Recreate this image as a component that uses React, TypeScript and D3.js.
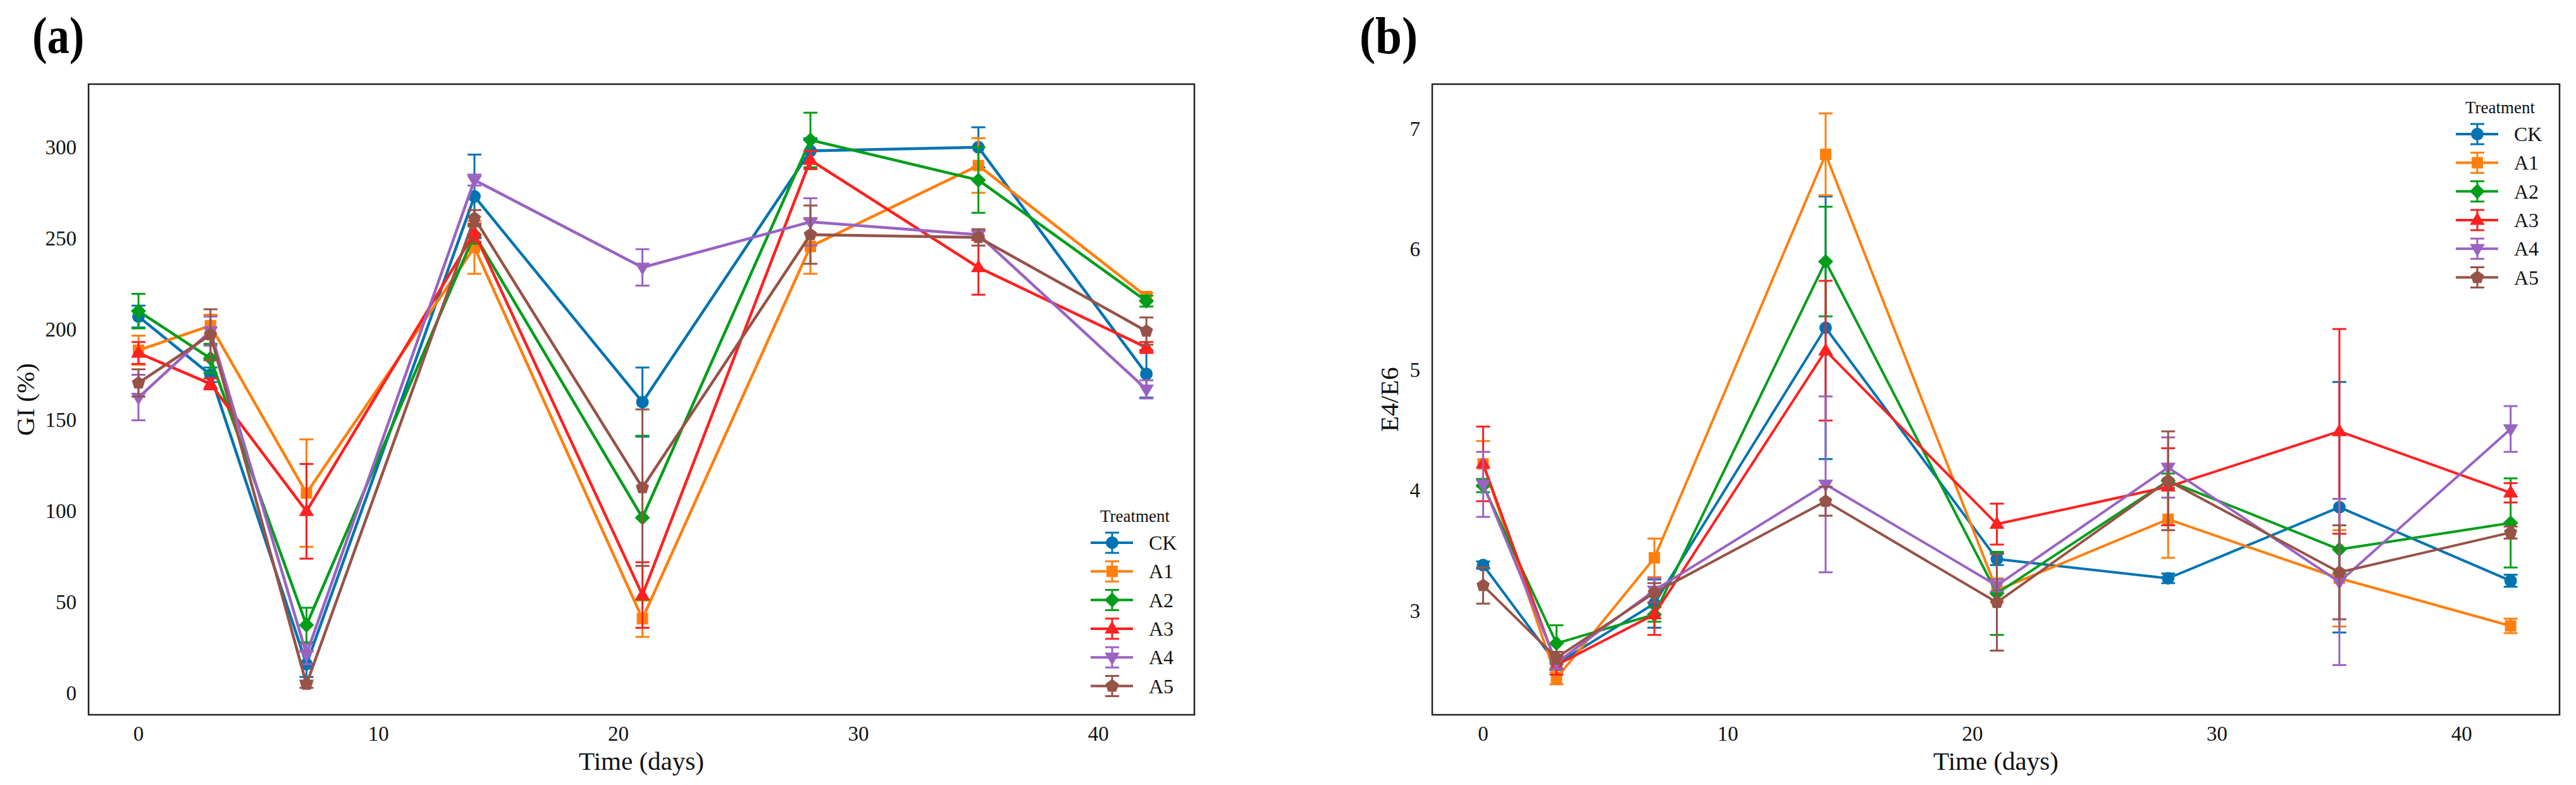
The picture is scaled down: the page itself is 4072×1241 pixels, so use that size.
import React from "react";
import * as d3 from "d3";

const days = [0, 3, 7, 14, 21, 28, 35, 42];
const treatments = ["CK", "A1", "A2", "A3", "A4", "A5"];
const colors = ["#0173B2", "#FF7F0E", "#029E1A", "#FF2020", "#9A63C2", "#975347"];
const shapes = ["circle", "square", "diamond", "triUp", "triDown", "pentagon"];

// Panel (a): GI (%)
const giMean = [
  [207, 175, 16, 273, 160, 298, 300, 175.5],
  [188.5, 202, 110, 245, 41, 245.5, 290, 218],
  [210, 184, 37.5, 252, 96.5, 304, 282, 215.5],
  [187, 170, 100, 253, 54, 293, 234, 190],
  [162.5, 199, 21.5, 282, 234, 259, 252, 167],
  [170.5, 197, 5, 261, 113, 252, 250.5, 199],
];
const giErr = [
  [6, 4, 7, 23, 19, 7, 11, 13],
  [8, 6, 29.5, 14.5, 10, 15, 15, 2],
  [9.5, 8, 9.5, 5, 45, 15, 18, 3],
  [6, 3, 26, 5, 18, 5, 15, 3],
  [12.5, 8, 5.5, 3, 10, 13, 2, 5],
  [7.5, 14, 2, 4.5, 43, 16, 4.5, 7.5],
];
const giTicks = [0, 50, 100, 150, 200, 250, 300];

// Panel (b): E4/E6
const eMean = [
  [3.38, 2.56, 3.06, 5.35, 3.43, 3.27, 3.86, 3.25],
  [4.22, 2.44, 3.44, 6.79, 3.17, 3.76, 3.27, 2.875],
  [4.04, 2.73, 2.97, 5.9, 3.145, 4.08, 3.51, 3.73],
  [4.22, 2.55, 2.97, 5.16, 3.72, 4.03, 4.49, 3.98],
  [4.05, 2.57, 3.17, 4.05, 3.21, 4.19, 3.24, 4.51],
  [3.21, 2.61, 3.15, 3.91, 3.07, 4.08, 3.32, 3.65],
];
const eErr = [
  [0.03, 0.05, 0.2, 1.09, 0.05, 0.04, 1.04, 0.05],
  [0.19, 0.05, 0.16, 0.34, 0.1, 0.32, 0.4, 0.06],
  [0.055, 0.15, 0.06, 0.455, 0.345, 0.06, 0.2, 0.37],
  [0.31, 0.08, 0.17, 0.58, 0.17, 0.32, 0.85, 0.08],
  [0.27, 0.05, 0.1, 0.73, 0.05, 0.25, 0.69, 0.19],
  [0.15, 0.05, 0.08, 0.12, 0.4, 0.41, 0.39, 0.05],
];
const eTicks = [3, 4, 5, 6, 7];
const xTicks = [0, 10, 20, 30, 40];

const FONT = "'Liberation Serif', 'Times New Roman', serif";

function makeSymbol(kind: string) {
  return {
    draw(ctx: any, r: number) {
      if (kind === "circle") {
        ctx.moveTo(r, 0);
        ctx.arc(0, 0, r, 0, 2 * Math.PI);
      } else if (kind === "square") {
        const s = r * 0.9;
        ctx.moveTo(-s, -s);
        ctx.lineTo(s, -s);
        ctx.lineTo(s, s);
        ctx.lineTo(-s, s);
        ctx.closePath();
      } else if (kind === "diamond") {
        const s = r * 1.2;
        ctx.moveTo(0, -s);
        ctx.lineTo(s, 0);
        ctx.lineTo(0, s);
        ctx.lineTo(-s, 0);
        ctx.closePath();
      } else if (kind === "triUp") {
        const s = r * 1.25;
        ctx.moveTo(0, -s);
        ctx.lineTo(s * 0.95, s * 0.6);
        ctx.lineTo(-s * 0.95, s * 0.6);
        ctx.closePath();
      } else if (kind === "triDown") {
        const s = r * 1.25;
        ctx.moveTo(0, s);
        ctx.lineTo(s * 0.95, -s * 0.6);
        ctx.lineTo(-s * 0.95, -s * 0.6);
        ctx.closePath();
      } else {
        const s = r * 1.1;
        for (let i = 0; i < 5; i++) {
          const a = -Math.PI / 2 + (i * 2 * Math.PI) / 5;
          const px = s * Math.cos(a);
          const py = s * Math.sin(a);
          if (i === 0) ctx.moveTo(px, py);
          else ctx.lineTo(px, py);
        }
        ctx.closePath();
      }
    },
  };
}

function symPath(kind: string, r: number) {
  return d3.symbol().type(makeSymbol(kind) as any).size(r)() as string;
}

type PanelProps = {
  left: number;
  right: number;
  top: number;
  bottom: number;
  yDomain: [number, number];
  yTicks: number[];
  mean: number[][];
  err: number[][];
  yLabel: string;
  yLabelX: number;
  panelLabel: string;
  panelLabelX: number;
  panelLabelScale: number;
  lineW: number;
};

function Panel(p: PanelProps) {
  const x = d3.scaleLinear().domain([-2.08, 44.0]).range([p.left, p.right]);
  const y = d3.scaleLinear().domain(p.yDomain).range([p.bottom, p.top]);
  const line = d3
    .line<number>()
    .x((_, i) => x(days[i]))
    .y((v) => y(v));
  const capW = 11;
  const markR = 10;
  const legX0 = p.right - 164;
  const legX1 = p.right - 97;
  const legMx = p.right - 130;
  const legLabelX = p.right - 72;
  const legTitleY = p.panelLabel === "(a)" ? p.bottom - 314 : p.top + 37;
  const legFirstY = legTitleY + 42;
  const legStep = 45.3;
  const cy = (p.top + p.bottom) / 2;
  return (
    <g>
      <text
        x={0}
        y={0}
        transform={`translate(${p.panelLabelX},84) scale(${p.panelLabelScale},1)`}
        fontFamily={FONT}
        fontWeight="bold"
        fontSize={82}
        fill="#000"
      >
        {p.panelLabel}
      </text>
      {/* series */}
      {treatments.map((t, si) => (
        <g key={t}>
          <path
            d={line(p.mean[si]) as string}
            fill="none"
            stroke={colors[si]}
            strokeWidth={p.lineW}
            strokeLinejoin="round"
          />
          {days.map((d, i) => {
            const v = p.mean[si][i];
            const e = p.err[si][i];
            const cx = x(d);
            return (
              <g key={i} stroke={colors[si]} strokeWidth={3}>
                <line x1={cx} x2={cx} y1={y(v - e)} y2={y(v + e)} />
                <line x1={cx - capW} x2={cx + capW} y1={y(v + e)} y2={y(v + e)} />
                <line x1={cx - capW} x2={cx + capW} y1={y(v - e)} y2={y(v - e)} />
              </g>
            );
          })}
          {days.map((d, i) => (
            <path
              key={"m" + i}
              d={symPath(shapes[si], markR)}
              transform={`translate(${x(d)},${y(p.mean[si][i])})`}
              fill={colors[si]}
            />
          ))}
        </g>
      ))}
      {/* frame */}
      <rect
        x={p.left}
        y={p.top}
        width={p.right - p.left}
        height={p.bottom - p.top}
        fill="none"
        stroke="#222"
        strokeWidth={2.5}
      />
      {/* x ticks */}
      {xTicks.map((t) => (
        <text
          key={t}
          x={x(t)}
          y={p.bottom + 41}
          textAnchor="middle"
          fontFamily={FONT}
          fontSize={33}
          fill="#111"
        >
          {t}
        </text>
      ))}
      {p.yTicks.map((t) => (
        <text
          key={t}
          x={p.left - 19}
          y={y(t) + 11}
          textAnchor="end"
          fontFamily={FONT}
          fontSize={33}
          fill="#111"
        >
          {t}
        </text>
      ))}
      <text
        x={(p.left + p.right) / 2}
        y={p.bottom + 87}
        textAnchor="middle"
        fontFamily={FONT}
        fontSize={41}
        fill="#111"
      >
        Time (days)
      </text>
      <text
        transform={`translate(${p.yLabelX},${cy}) rotate(-90)`}
        textAnchor="middle"
        fontFamily={FONT}
        fontSize={41}
        fill="#111"
      >
        {p.yLabel}
      </text>
      {/* legend */}
      <text
        x={legMx + 36}
        y={legTitleY + 9}
        textAnchor="middle"
        fontFamily={FONT}
        fontSize={27}
        fill="#111"
      >
        Treatment
      </text>
      {treatments.map((t, si) => {
        const ly = legFirstY + si * legStep;
        return (
          <g key={"leg" + t}>
            <g stroke={colors[si]} strokeWidth={3}>
              <line x1={legX0} x2={legX1} y1={ly} y2={ly} strokeWidth={4} />
              <line x1={legMx} x2={legMx} y1={ly - 16} y2={ly + 16} />
              <line x1={legMx - capW} x2={legMx + capW} y1={ly - 16} y2={ly - 16} />
              <line x1={legMx - capW} x2={legMx + capW} y1={ly + 16} y2={ly + 16} />
            </g>
            <path
              d={symPath(shapes[si], markR)}
              transform={`translate(${legMx},${ly})`}
              fill={colors[si]}
            />
            <text
              x={legLabelX}
              y={ly + 11}
              fontFamily={FONT}
              fontSize={32}
              fill="#111"
            >
              {t}
            </text>
          </g>
        );
      })}
    </g>
  );
}

export default function App() {
  return (
    <svg
      width={4072}
      height={1241}
      style={{ position: "absolute", left: 0, top: 0, background: "#fff" }}
    >
      <rect x={0} y={0} width={4072} height={1241} fill="#fff" />
      <Panel
        left={140}
        right={1888}
        top={133}
        bottom={1130}
        yDomain={[-11.8, 334.7]}
        yTicks={giTicks}
        mean={giMean}
        err={giErr}
        yLabel="GI (%)"
        yLabelX={54}
        panelLabel="(a)"
        panelLabelX={51}
        panelLabelScale={0.86}
        lineW={4.5}
      />
      <Panel
        left={2264}
        right={4046}
        top={133}
        bottom={1130}
        yDomain={[2.137, 7.373]}
        yTicks={eTicks}
        mean={eMean}
        err={eErr}
        yLabel="E4/E6"
        yLabelX={2210}
        panelLabel="(b)"
        panelLabelX={2149}
        panelLabelScale={0.92}
        lineW={4}
      />
    </svg>
  );
}
